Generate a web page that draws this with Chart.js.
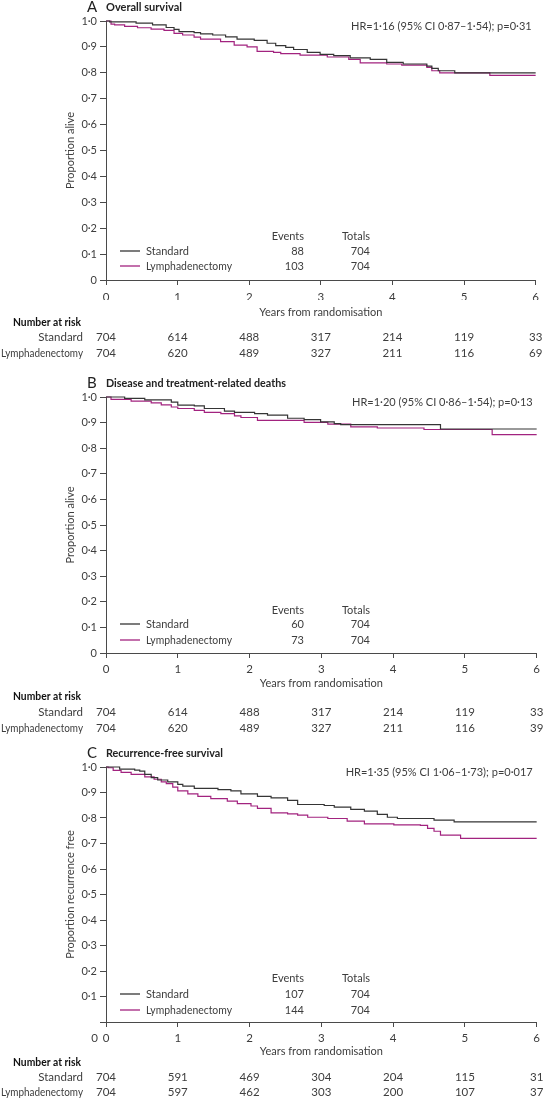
<!DOCTYPE html>
<html>
<head>
<meta charset="utf-8">
<script src="https://cdn.jsdelivr.net/npm/chart.js@4.4.1/dist/chart.umd.min.js"></script>
<style>
html, body { margin: 0; padding: 0; background: #fff; }
#wrap { position: relative; width: 544px; height: 1099px; overflow: hidden; }
.panel { position: absolute; left: 0; width: 544px; }
canvas { display: block; }
</style>
</head>
<body>
<div id="wrap">
	<div class="panel" style="top:0px"><canvas id="chartA" width="544" height="370"></canvas></div>
	<div class="panel" style="top:370px"><canvas id="chartB" width="544" height="375"></canvas></div>
	<div class="panel" style="top:745px"><canvas id="chartC" width="544" height="354"></canvas></div>
</div>
<script>
// tick positions for the x axis and the number-at-risk table
var years = [0, 1, 2, 3, 4, 5, 6];
var groups = ["Standard", "Lymphadenectomy"];

// A: overall survival, [years, proportion alive]
var osStandard = [[0,1],[0.05,0.997],[0.42,0.992],[0.65,0.985],[0.84,0.975],[0.95,0.968],[1.02,0.959],[1.23,0.955],[1.32,0.95],[1.49,0.946],[1.67,0.939],[1.83,0.93],[2.07,0.925],[2.25,0.914],[2.37,0.905],[2.51,0.898],[2.62,0.89],[2.81,0.879],[2.99,0.871],[3.18,0.866],[3.41,0.858],[3.69,0.852],[3.92,0.84],[4.15,0.834],[4.48,0.826],[4.55,0.817],[4.64,0.808],[4.87,0.8],[6,0.8]];
var osLymph = [[0,1],[0.07,0.988],[0.12,0.985],[0.26,0.979],[0.44,0.974],[0.63,0.969],[0.81,0.964],[0.95,0.952],[1.07,0.946],[1.23,0.938],[1.32,0.93],[1.6,0.92],[1.79,0.907],[1.97,0.9],[2.11,0.883],[2.34,0.879],[2.44,0.874],[2.71,0.868],[3.09,0.861],[3.39,0.852],[3.55,0.838],[3.92,0.834],[4.13,0.83],[4.48,0.821],[4.55,0.808],[4.66,0.8],[5.36,0.79],[6,0.79]];
var osEvents = [88, 103];
var osTotals = [704, 704];
var osRiskStandard = [704, 614, 488, 317, 214, 119, 33];
var osRiskLymph = [704, 620, 489, 327, 211, 116, 69];

// B: disease and treatment-related deaths
var dtStandard = [[0,1],[0.26,0.995],[0.54,0.989],[0.91,0.98],[1.0,0.968],[1.23,0.965],[1.37,0.955],[1.65,0.945],[1.79,0.94],[2.07,0.935],[2.25,0.929],[2.53,0.917],[2.76,0.912],[2.99,0.903],[3.18,0.896],[3.27,0.892],[4.66,0.875],[6,0.875]];
var dtLymph = [[0,1],[0.07,0.991],[0.35,0.984],[0.63,0.977],[0.77,0.969],[0.91,0.961],[1.0,0.955],[1.23,0.948],[1.37,0.94],[1.6,0.935],[1.79,0.926],[1.88,0.92],[2.11,0.909],[2.76,0.901],[3.09,0.894],[3.41,0.883],[3.78,0.879],[4.43,0.873],[5.38,0.853],[6,0.853]];
var dtEvents = [60, 73];
var dtTotals = [704, 704];
var dtRiskStandard = [704, 614, 488, 317, 214, 119, 33];
var dtRiskLymph = [704, 620, 489, 327, 211, 116, 39];

// C: recurrence-free survival
var rfStandard = [[0,1],[0.19,0.992],[0.4,0.988],[0.47,0.984],[0.54,0.971],[0.63,0.958],[0.72,0.949],[0.86,0.942],[1.0,0.932],[1.07,0.925],[1.23,0.916],[1.56,0.911],[1.74,0.906],[1.88,0.895],[2.11,0.885],[2.3,0.879],[2.53,0.869],[2.67,0.853],[3.04,0.849],[3.18,0.843],[3.41,0.834],[3.6,0.827],[3.78,0.814],[3.92,0.803],[4.06,0.798],[4.57,0.792],[4.85,0.785],[6,0.785]];
var rfLymph = [[0,1],[0.03,0.997],[0.1,0.987],[0.21,0.979],[0.35,0.971],[0.54,0.961],[0.67,0.952],[0.77,0.942],[0.84,0.935],[0.93,0.921],[1.0,0.906],[1.14,0.895],[1.28,0.885],[1.46,0.876],[1.69,0.866],[1.83,0.856],[2.02,0.847],[2.11,0.838],[2.3,0.82],[2.53,0.816],[2.67,0.811],[2.81,0.803],[3.09,0.798],[3.36,0.788],[3.6,0.777],[4.01,0.773],[4.38,0.771],[4.48,0.759],[4.57,0.748],[4.66,0.733],[4.94,0.72],[6,0.72]];
var rfEvents = [107, 144];
var rfTotals = [704, 704];
var rfRiskStandard = [704, 591, 469, 304, 204, 115, 31];
var rfRiskLymph = [704, 597, 462, 303, 200, 107, 37];

var FONT = "Lato, 'Open Sans', 'DejaVu Sans', sans-serif";
var TEXT = "#3d3d3d";
var AXIS = "#4a4a4a";
var COL_STD = "#353535";
var COL_LYM = "#a2237f";

Chart.defaults.font.family = FONT;
Chart.defaults.color = TEXT;

function toPoints(arr){
	return arr.map(function(p){ return {x: p[0], y: p[1]}; });
}

function dotNum(v){
	if (Math.abs(v) < 1e-9) return "0";
	return v.toFixed(1).replace(".", "\u00B7");
}

// draws titles, hazard ratio, legend table and number at risk
var kmDecor = {
	id: "kmDecor",
	afterDraw: function(chart){
		var o = chart.options.plugins.kmDecor;
		var off = o.offsets; // [x labels, x title, "Number at risk", row 1, row 2]
		var ctx = chart.ctx;
		var area = chart.chartArea;
		var xs = chart.scales.x;
		ctx.save();
		ctx.textBaseline = "middle";

		// panel letter and title
		ctx.fillStyle = "#222";
		ctx.textAlign = "left";
		ctx.font = "15px " + FONT;
		ctx.fillText(o.letter, 87, area.top - 14);
		ctx.font = "bold 11.5px " + FONT;
		ctx.fillText(o.title, area.left, area.top - 14, o.titleWidth);

		// hazard ratio
		ctx.fillStyle = TEXT;
		ctx.font = "11px " + FONT;
		ctx.textAlign = "right";
		ctx.fillText(o.hr, area.right - 4, area.top + 5);

		// y title
		ctx.save();
		ctx.translate(70, (area.top + area.bottom) / 2);
		ctx.rotate(-Math.PI / 2);
		ctx.textAlign = "center";
		ctx.fillText(o.yTitle, 0, 0);
		ctx.restore();

		// x title
		ctx.textAlign = "center";
		ctx.fillText("Years from randomisation", (area.left + area.right) / 2, area.bottom + off[1]);

		// y zero label moved down beside the x zero (panel C)
		if (o.lowZero){
			ctx.font = "11.5px " + FONT;
			ctx.textAlign = "right";
			ctx.fillText("0", area.left - 8, area.bottom + off[0]);
			ctx.font = "11px " + FONT;
		}

		// legend with events and totals
		var lx = area.left;
		ctx.textAlign = "right";
		ctx.fillText("Events", lx + 198, area.bottom - o.legend[0]);
		ctx.fillText("Totals", lx + 264, area.bottom - o.legend[0]);
		var cols = [COL_STD, COL_LYM];
		for (var i = 0; i < 2; i++){
			var ly = area.bottom - o.legend[i + 1];
			ctx.strokeStyle = cols[i];
			ctx.lineWidth = 1.3;
			ctx.beginPath();
			ctx.moveTo(lx + 14, ly);
			ctx.lineTo(lx + 34, ly);
			ctx.stroke();
			ctx.textAlign = "left";
			ctx.fillText(groups[i], lx + 40, ly, 86);
			ctx.textAlign = "right";
			ctx.fillText(String(o.events[i]), lx + 198, ly);
			ctx.fillText(String(o.totals[i]), lx + 264, ly);
		}

		// number at risk
		ctx.fillStyle = "#111";
		ctx.font = "bold 11.5px " + FONT;
		ctx.textAlign = "left";
		ctx.fillText("Number at risk", 13, area.bottom + off[2], 68);
		ctx.fillStyle = TEXT;
		var rows = [o.riskStd, o.riskLym];
		for (var r = 0; r < 2; r++){
			var ry = area.bottom + off[3 + r];
			ctx.font = "11.5px " + FONT;
			ctx.textAlign = "right";
			ctx.fillText(groups[r], 83, ry, 82);
			ctx.textAlign = "center";
			for (var k = 0; k < years.length; k++){
				ctx.fillText(String(rows[r][k]), xs.getPixelForValue(years[k]), ry);
			}
		}
		ctx.restore();
	}
};

function makeChart(id, cfg){
	var canvas = document.getElementById(id);
	var H = canvas.height;
	var xH = 20;
	return new Chart(canvas.getContext("2d"), {
		type: "line",
		data: {
			datasets: [{
				label: groups[0],
				data: toPoints(cfg.std),
				borderColor: COL_STD,
				borderWidth: 1.2,
				stepped: true,
				pointRadius: 0,
				fill: false,
				clip: false
			}, {
				label: groups[1],
				data: toPoints(cfg.lym),
				borderColor: COL_LYM,
				borderWidth: 1.2,
				stepped: true,
				pointRadius: 0,
				fill: false,
				clip: false
			}]
		},
		options: {
			responsive: false,
			animation: false,
			events: [],
			layout: { padding: { top: cfg.top, left: 0, right: 6, bottom: H - cfg.bottom - xH } },
			plugins: {
				legend: { display: false },
				tooltip: { enabled: false },
				kmDecor: cfg
			},
			scales: {
				x: {
					type: "linear",
					min: 0,
					max: 6,
					afterFit: function(s){ s.height = xH; },
					ticks: {
						stepSize: 1,
						padding: cfg.offsets[0] - 12,
						color: TEXT,
						font: { size: 11.5 },
						maxRotation: 0,
						callback: function(v){ return String(v); }
					},
					grid: { drawOnChartArea: false, drawTicks: true, tickLength: 5, color: AXIS, lineWidth: 1 },
					border: { display: true, color: AXIS, width: 1 }
				},
				y: {
					type: "linear",
					min: 0,
					max: 1,
					afterFit: function(s){ s.width = 106; },
					ticks: {
						stepSize: 0.1,
						padding: 3,
						color: TEXT,
						font: { size: 11 },
						callback: function(v){
							if (cfg.lowZero && Math.abs(v) < 1e-9) return "";
							return dotNum(v);
						}
					},
					grid: { drawOnChartArea: false, drawTicks: true, tickLength: 6, color: AXIS, lineWidth: 1 },
					border: { display: true, color: AXIS, width: 1 }
				}
			}
		},
		plugins: [kmDecor]
	});
}

makeChart("chartA", {
	letter: "A", title: "Overall survival", yTitle: "Proportion alive", titleWidth: 76,
	hr: "HR=1\u00B716 (95% CI 0\u00B787\u20131\u00B754); p=0\u00B731",
	std: osStandard, lym: osLymph, events: osEvents, totals: osTotals,
	riskStd: osRiskStandard, riskLym: osRiskLymph,
	top: 21, bottom: 280, lowZero: false,
	offsets: [17, 32, 42, 57, 73], legend: [44, 29, 14]
});
makeChart("chartB", {
	letter: "B", title: "Disease and treatment-related deaths", yTitle: "Proportion alive", titleWidth: 180,
	hr: "HR=1\u00B720 (95% CI 0\u00B786\u20131\u00B754); p=0\u00B713",
	std: dtStandard, lym: dtLymph, events: dtEvents, totals: dtTotals,
	riskStd: dtRiskStandard, riskLym: dtRiskLymph,
	top: 27, bottom: 283, lowZero: false,
	offsets: [16, 30, 43, 59, 75], legend: [43, 29, 13]
});
makeChart("chartC", {
	letter: "C", title: "Recurrence-free survival", yTitle: "Proportion recurrence free", titleWidth: 117,
	hr: "HR=1\u00B735 (95% CI 1\u00B706\u20131\u00B773); p=0\u00B7017",
	std: rfStandard, lym: rfLymph, events: rfEvents, totals: rfTotals,
	riskStd: rfRiskStandard, riskLym: rfRiskLymph,
	top: 22, bottom: 277, lowZero: true,
	offsets: [16, 29, 40, 55, 70], legend: [44, 28, 12]
});
</script>
</body>
</html>
